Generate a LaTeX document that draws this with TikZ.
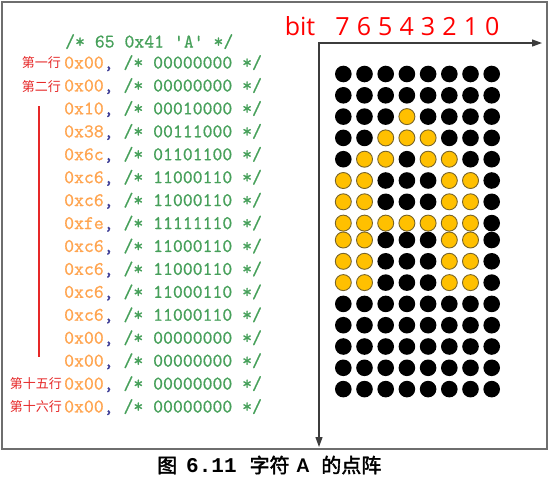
\documentclass[tikz,border=0pt]{standalone}
\usepackage{fontspec}
\usetikzlibrary{arrows.meta}
\newfontfamily\cjk{Noto Sans CJK SC}
\newfontfamily\cjkb[FakeBold=2]{Noto Sans CJK SC}
\newfontfamily\bitfont{Open Sans}
\newfontfamily\capmono{Liberation Mono}
\newfontfamily\capsans{Carlito}
\newfontfamily\codefont[FakeBold=0.9]{Latin Modern Mono}
\definecolor{hexor}{RGB}{255,165,80}
\definecolor{cmgreen}{RGB}{70,160,90}
\definecolor{commab}{RGB}{60,60,150}
\definecolor{lblred}{RGB}{230,40,40}
\definecolor{dotor}{RGB}{255,192,0}
\definecolor{dotedge}{RGB}{120,100,40}
\definecolor{framegray}{RGB}{110,110,110}
\definecolor{axisgray}{RGB}{60,60,60}
\newcommand\codeline[2]{{\color{hexor}0x#1}{\color{commab},} {\color{cmgreen}/* #2 */}}
\tikzset{
  code/.style={inner sep=0pt, font=\codefont\fontsize{19.2}{20}\selectfont},
  lbl/.style={inner sep=0pt, text=lblred, font=\cjk\fontsize{13}{14}\selectfont},
  ondot/.style={circle, minimum size=16pt, inner sep=0pt, fill=dotor, draw=dotedge, line width=0.9pt},
  offdot/.style={circle, minimum size=16.6pt, inner sep=0pt, fill=black},
  bitlbl/.style={inner sep=0pt, text=red, font=\bitfont\fontsize{25}{26}\selectfont},
  axis/.style={draw=axisgray, line width=1.2pt},
}
\begin{document}
\begin{tikzpicture}[x=1pt, y=-1pt]
\useasboundingbox (0,0) rectangle (553,480);
\fill[white] (0,0) rectangle (553,480);
\draw[framegray, line width=1.5pt] (2,2) rectangle (547,449);
% header
\node[code, anchor=base west, text=cmgreen] (hdr) at (65,47.5) {/* 65 0x41 'A' */};
% code lines
\foreach \i/\h/\b in {1/00/00000000, 2/00/00000000, 3/10/00010000, 4/38/00111000,
  5/6c/01101100, 6/c6/11000110, 7/c6/11000110, 8/fe/11111110, 9/c6/11000110,
  10/c6/11000110, 11/c6/11000110, 12/c6/11000110, 13/00/00000000, 14/00/00000000,
  15/00/00000000, 16/00/00000000}{
  \node[code, anchor=base west] (c\i) at (64,{63+22.93*(\i-1)+5.5}) {\codeline{\h}{\b}};
}
% red labels
\node[lbl, anchor=east] (l1) at (61,63) {第一行};
\node[lbl, anchor=east] (l2) at (61,87) {第二行};
\node[lbl, anchor=east] (l15) at (62,384) {第十五行};
\node[lbl, anchor=east] (l16) at (62,407) {第十六行};
\coordinate (rt) at (39,106);
\coordinate (rb) at (39,357);
\draw[lblred, line width=1.1pt] (rt) -- (rb);
% axes
\coordinate (o) at (319,43);
\coordinate (xend) at (542,43);
\coordinate (yend) at (319,447);
\draw[axis, {Triangle[length=10pt,width=7pt]}-{Triangle[length=10pt,width=7pt]}] (xend) -- (o) -- (yend);
% bit labels
\node[bitlbl, anchor=base] (bit) at (300,35) {bit};
\foreach \c/\d in {1/7,2/6,3/5,4/4,5/3,6/2,7/1,8/0}{
  \node[bitlbl, anchor=base] (b\d) at ({342.5+21.4*(\c-1)},35) {\d};
}
% dots
\foreach \r/\v in {1/0,2/0,3/16,4/56,5/108,6/198,7/198,8/254,9/198,10/198,11/198,12/0,13/0,14/0,15/0,16/0}{
  \foreach \c in {1,...,8}{
    \pgfmathtruncatemacro\bt{mod(floor(\v/pow(2,8-\c)),2)}
    \pgfmathsetmacro\yy{\r<9 ? 74+21.3*(\r-1) : 240+21.3*(\r-9)}
    \pgfmathsetmacro\xx{343.3+21.2*(\c-1)}
    \ifnum\bt=1
      \node[ondot] (d\r-\c) at (\xx,\yy) {};
    \else
      \node[offdot] (d\r-\c) at (\xx,\yy) {};
    \fi
  }
}
% caption
\node[anchor=west, inner sep=0pt, font=\fontsize{20}{24}\selectfont] (cap) at (157,465)
  {{\cjkb 图}\hspace{9pt}{\capmono\bfseries\fontsize{21}{24}\selectfont 6.11}\hspace{13pt}{\cjkb 字符}\hspace{7pt}{\capsans\bfseries\fontsize{21}{24}\selectfont A}\hspace{12pt}{\cjkb 的点阵}};
\end{tikzpicture}
\end{document}
